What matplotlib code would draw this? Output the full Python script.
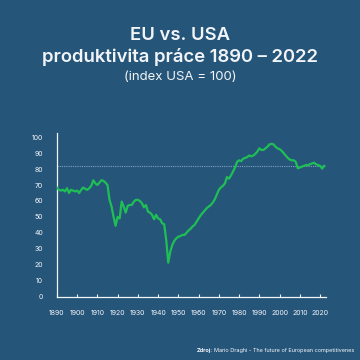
import matplotlib
matplotlib.use("Agg")
import matplotlib.pyplot as plt
import numpy as np

years = list(range(1890, 2023))
values = [
    68.4, 67, 66.5, 67, 66, 68, 65, 67, 66.5, 66,          # 1890-1899
    66.5, 65, 67, 68.4, 67.6, 67, 68, 69.5, 73, 71,        # 1900-1909
    70, 71.5, 73, 72.6, 71.5, 70, 60.7, 56.5, 50, 44.4,    # 1910-1919
    50, 49, 59.6, 56.5, 52.7, 57, 57.5, 57.5, 59.6, 60.7,  # 1920-1929
    60.7, 60, 58.6, 56, 57.5, 53.3, 52.7, 51.3, 48.5, 51.3,  # 1930-1939
    49, 48.5, 46, 45.4, 35.6, 21.3, 28.2, 32.4, 35, 36.6,  # 1940-1949
    37.6, 38, 38.7, 38.7, 40, 41.5, 42.5, 44, 45, 47,      # 1950-1959
    49, 51, 52.5, 54, 55.5, 56.5, 57.5, 59, 61, 64,        # 1960-1969
    67, 68.5, 69.5, 71, 75, 74, 76, 78.5, 81, 84.5,        # 1970-1979
    85.5, 85, 86.5, 87, 87.5, 88.5, 88, 88.5, 89.5, 91,    # 1980-1989
    93, 92, 92, 93, 94, 95.5, 95.8, 95.5, 94, 93,          # 1990-1999
    92.5, 91.5, 90, 88.5, 87, 86, 85.5, 85.5, 84.5, 80.5,  # 2000-2009
    81, 81.5, 82, 82.5, 82.5, 83, 83.5, 84, 83, 82.5,      # 2010-2019
    82, 80.3, 82,                                          # 2020-2022
]
ref_level = 82.2
xticks = list(range(1890, 2030, 10))
yticks = list(range(0, 101, 10))

bg = "#26557a"
green = "#1fbf55"
txt = "#f2f5f8"

plt.rcParams['font.family'] = ['Inter', 'DejaVu Sans']

fig = plt.figure(figsize=(3.6, 3.6), dpi=100)
fig.patch.set_facecolor(bg)
ax = fig.add_axes([0.158, 0.176, 0.748, 0.454])
ax.set_facecolor(bg)

ax.axhline(ref_level, color="#7fa2c2", lw=0.8, ls=(0, (1, 1)), zorder=1)
ax.plot(years, values, color=green, lw=1.6, solid_joinstyle="round", zorder=3)

ax.set_xlim(1890, 2023)
ax.set_ylim(0, 102.5)
ax.set_xticks(xticks)
ax.set_yticks(yticks)
ax.tick_params(axis="x", direction="in", length=2.5, width=0.8, color=txt,
               labelsize=5, labelcolor=txt, pad=9.5)
ax.tick_params(axis="y", length=0, labelsize=5, labelcolor=txt, pad=10)
for s in ["top", "right"]:
    ax.spines[s].set_visible(False)
for s in ["left", "bottom"]:
    ax.spines[s].set_color(txt)
    ax.spines[s].set_linewidth(0.9)

fig.text(0.5, 1 - 35 / 360, "EU vs. USA", ha="center", va="center",
         fontsize=13.3, fontweight="semibold", color=txt)
fig.text(0.5, 1 - 57 / 360, "produktivita práce 1890 – 2022", ha="center", va="center",
         fontsize=13.3, fontweight="semibold", color=txt)
fig.text(0.5, 1 - 77 / 360, "(index USA = 100)", ha="center", va="center",
         fontsize=9.5, color=txt)

t1 = fig.text(197 / 360, 1 - 350.7 / 360, "Zdroj:", ha="left", va="center",
              fontsize=4, fontweight="bold", color=txt)
fig.canvas.draw()
bb = t1.get_window_extent()
fig.text(bb.x1 / fig.bbox.width + 0.003, 1 - 350.7 / 360,
         "Mario Draghi - The future of European competitivenes",
         ha="left", va="center", fontsize=4, color=txt)

fig.savefig("out.png", dpi=100, facecolor=bg)
